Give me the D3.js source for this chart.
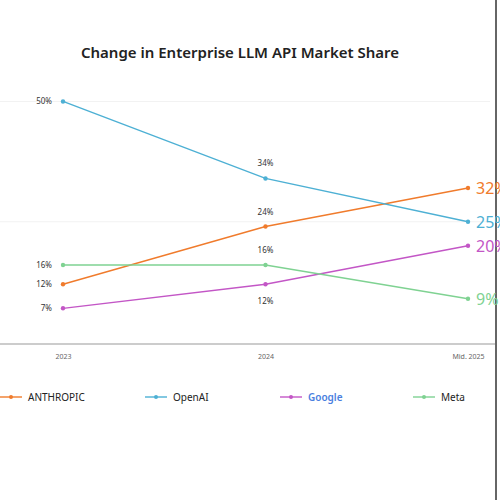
<!DOCTYPE html>
<html><head><meta charset="utf-8">
<script src="https://cdn.jsdelivr.net/npm/d3@7"></script>
<style>body{margin:0;background:#fff}text{font-family:"Noto Sans",sans-serif}</style>
</head><body><svg id="chart" width="500" height="500"></svg>
<script>
const periods = ['2023', '2024', 'Mid. 2025'];
const companies = ['Anthropic', 'OpenAI', 'Google', 'Meta'];
const legendNames = ['ANTHROPIC', 'OpenAI', 'Google', 'Meta'];
const anthropicShare = [12, 24, 32];
const openaiShare = [50, 34, 25];
const googleShare = [7, 12, 20];
const metaShare = [16, 16, 9];
const colors = ['#f07b2c', '#4db0d4', '#c356c6', '#7fd292'];
const gridTicks = [0, 25, 50];

const series = [anthropicShare, openaiShare, googleShare, metaShare];
const svg = d3.select('#chart');

svg.append('text').attr('x', 240).attr('y', 58).attr('text-anchor', 'middle')
  .attr('font-size', 15).attr('font-weight', 600).attr('fill', '#222')
  .text('Change in Enterprise LLM API Market Share');

const x = d3.scalePoint().domain(periods).range([63, 468]);
const y = d3.scaleLinear().domain([0, 55]).range([342, 77.4]);

svg.append('g').selectAll('line').data(gridTicks.slice(1)).join('line')
  .attr('x1', 0).attr('x2', 490).attr('y1', d => y(d)).attr('y2', d => y(d))
  .attr('stroke', '#f2f2f2');

const xAxis = svg.append('g').attr('transform', 'translate(0,344)')
  .call(d3.axisBottom(x).tickSize(0).tickPadding(10));
xAxis.select('.domain').remove();
xAxis.selectAll('text').attr('font-size', 7).attr('fill', '#666');
svg.append('line').attr('x1', 0).attr('x2', 495).attr('y1', 344).attr('y2', 344)
  .attr('stroke', '#ccc').attr('stroke-width', 2);
svg.append('line').attr('x1', 496).attr('x2', 496).attr('y1', 0).attr('y2', 500)
  .attr('stroke', '#333').attr('stroke-width', 1.5);

const line = d3.line().x((d, i) => x(periods[i])).y(d => y(d));
// mid label offsets: above except Google below
const midDy = [-12, -12, 20, -12];

series.forEach((vals, k) => {
  svg.append('path').datum(vals).attr('d', line).attr('fill', 'none')
    .attr('stroke', colors[k]).attr('stroke-width', 1.4);
  svg.append('g').selectAll('circle').data(vals).join('circle')
    .attr('cx', (d, i) => x(periods[i])).attr('cy', d => y(d)).attr('r', 2.2)
    .attr('fill', colors[k]);
  svg.append('text').attr('x', x(periods[0]) - 11).attr('y', y(vals[0]) + 3)
    .attr('text-anchor', 'end').attr('font-size', 8).attr('fill', '#333')
    .text(vals[0] + '%');
  svg.append('text').attr('x', x(periods[1])).attr('y', y(vals[1]) + midDy[k])
    .attr('text-anchor', 'middle').attr('font-size', 8).attr('fill', '#333')
    .text(vals[1] + '%');
  svg.append('text').attr('x', x(periods[2]) + 8).attr('y', y(vals[2]) + 6)
    .attr('font-size', 16).attr('fill', colors[k])
    .text(vals[2] + '%');
});

const legendX = [0, 145, 280, 413];
const lg = svg.append('g').selectAll('g').data(companies).join('g')
  .attr('transform', (d, i) => `translate(${legendX[i]},397)`);
lg.append('line').attr('x1', (d, i) => i === 0 ? -10 : 0).attr('x2', 22)
  .attr('stroke', (d, i) => colors[i]).attr('stroke-width', 1.4);
lg.append('circle').attr('cx', 11).attr('r', 2).attr('fill', (d, i) => colors[i]);
lg.append('text').attr('x', 28).attr('y', 4).attr('font-size', 10)
  .attr('font-weight', (d, i) => i === 2 ? 600 : 400)
  .attr('fill', (d, i) => i === 2 ? '#4a7fe0' : '#222')
  .text((d, i) => legendNames[i]);
</script></body></html>
